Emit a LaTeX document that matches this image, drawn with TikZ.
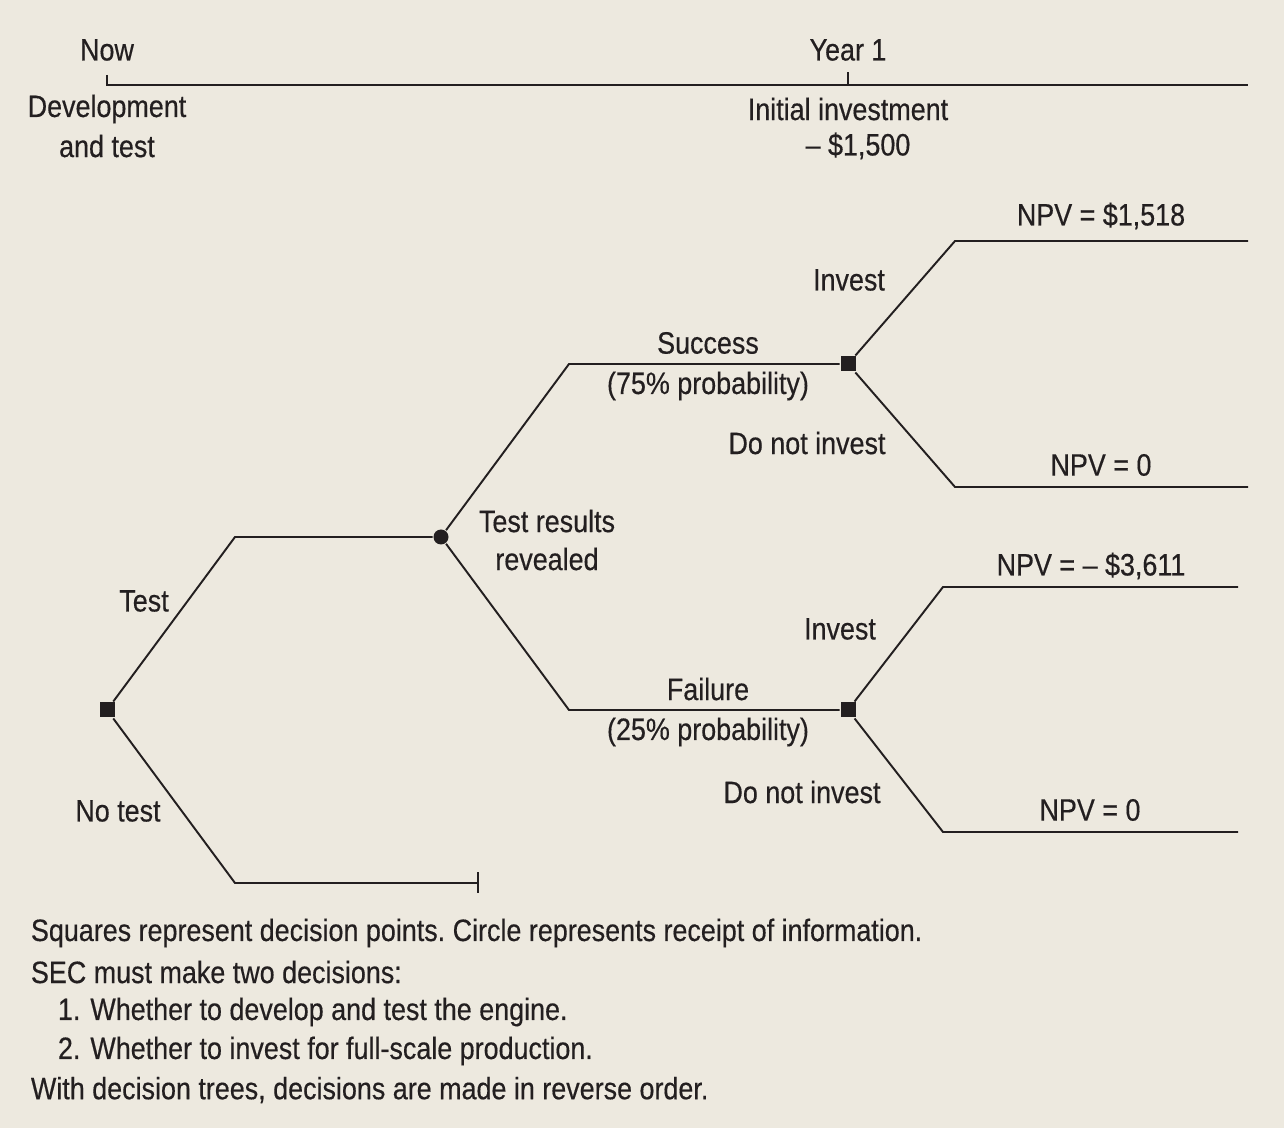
\documentclass[tikz,border=0pt]{standalone}
\usepackage{fontspec}
\setmainfont[FakeStretch=0.87,FakeBold=0.4]{Liberation Sans}
\definecolor{paper}{HTML}{EDE9DF}
\definecolor{ink}{HTML}{231F20}
\frenchspacing
\begin{document}
\begin{tikzpicture}[line width=0.55pt, draw=ink, text=ink,
  dec/.style={rectangle, fill=ink, minimum size=0.15cm, inner sep=0pt},
  info/.style={circle, fill=ink, minimum size=0.15cm, inner sep=0pt},
  lbl/.style={inner sep=0pt, font=\fontsize{8.8}{10}\selectfont},
  capline/.style={lbl, anchor=west}]
  \fill[paper] (0,0) rectangle (12.84,11.28);
  \useasboundingbox (0,0) rectangle (12.84,11.28);

  % time line
  \coordinate (t0) at (1.07,10.43);
  \coordinate (t1) at (8.48,10.43);
  \coordinate (tend) at (12.48,10.43);
  \coordinate (t0up) at (1.07,10.53);
  \coordinate (t1up) at (8.48,10.56);
  \draw (t0up) -- (t0) -- (tend);
  \draw (t1) -- (t1up);
  \node[lbl] (now) at (1.07,10.78) {Now};
  \node[lbl] (dev) at (1.07,10.19) {Development};
  \node[lbl] (andtest) at (1.07,9.82) {and test};
  \node[lbl] (year) at (8.48,10.78) {Year 1};
  \node[lbl] (initinv) at (8.48,10.19) {Initial investment};
  \node[lbl] (cost) at (8.58,9.82) {-- \$1,500};

  % tree
  \node[dec] (root) at (1.07,4.18) {};
  \coordinate (tc) at (2.35,5.91);
  \node[info] (reveal) at (4.41,5.91) {};
  \coordinate (nc) at (2.35,2.45);
  \coordinate (nend) at (4.78,2.45);
  \coordinate (nendup) at (4.78,2.56);
  \coordinate (nenddn) at (4.78,2.35);

  \coordinate (sc) at (5.69,7.64);
  \node[dec] (sdec) at (8.48,7.64) {};
  \coordinate (fc) at (5.69,4.18);
  \node[dec] (fdec) at (8.48,4.18) {};

  \coordinate (si) at (9.55,8.87);
  \coordinate (siend) at (12.48,8.87);
  \coordinate (sn) at (9.55,6.41);
  \coordinate (snend) at (12.48,6.41);
  \coordinate (fi) at (9.43,5.41);
  \coordinate (fiend) at (12.38,5.41);
  \coordinate (fn) at (9.43,2.96);
  \coordinate (fnend) at (12.38,2.96);

  \draw (root) -- (tc) -- (reveal);
  \draw (root) -- (nc) -- (nend);
  \draw (nendup) -- (nenddn);
  \draw (reveal) -- (sc) -- (sdec);
  \draw (reveal) -- (fc) -- (fdec);
  \draw (sdec) -- (si) -- (siend);
  \draw (sdec) -- (sn) -- (snend);
  \draw (fdec) -- (fi) -- (fiend);
  \draw (fdec) -- (fn) -- (fnend);

  % labels
  \node[lbl] (ltest) at (1.44,5.27) {Test};
  \node[lbl] (lnotest) at (1.18,3.17) {No test};
  \node[lbl] (lres) at (5.47,6.07) {Test results};
  \node[lbl] (lrev) at (5.47,5.69) {revealed};
  \node[lbl] (lsucc) at (7.08,7.85) {Success};
  \node[lbl] (lsp) at (7.08,7.42) {(75\% probability)};
  \node[lbl] (lfail) at (7.08,4.39) {Failure};
  \node[lbl] (lfp) at (7.08,3.96) {(25\% probability)};
  \node[lbl] (lsi) at (8.49,8.48) {Invest};
  \node[lbl] (lsn) at (8.07,6.85) {Do not invest};
  \node[lbl] (lfi) at (8.40,4.99) {Invest};
  \node[lbl] (lfn) at (8.02,3.36) {Do not invest};
  \node[lbl] (npv1) at (11.01,9.12) {NPV = \$1,518};
  \node[lbl] (npv2) at (11.01,6.63) {NPV = 0};
  \node[lbl] (npv3) at (10.91,5.62) {NPV = -- \$3,611};
  \node[lbl] (npv4) at (10.90,3.18) {NPV = 0};

  % caption
  \node[capline] (c1) at (0.30,1.95) {Squares represent decision points. Circle represents receipt of information.};
  \node[capline] (c2) at (0.30,1.56) {SEC must make two decisions:};
  \node[capline] (c3) at (0.57,1.16) {1.\hspace{0.1cm}Whether to develop and test the engine.};
  \node[capline] (c4) at (0.57,0.77) {2.\hspace{0.1cm}Whether to invest for full-scale production.};
  \node[capline] (c5) at (0.30,0.38) {With decision trees, decisions are made in reverse order.};
\end{tikzpicture}
\end{document}
